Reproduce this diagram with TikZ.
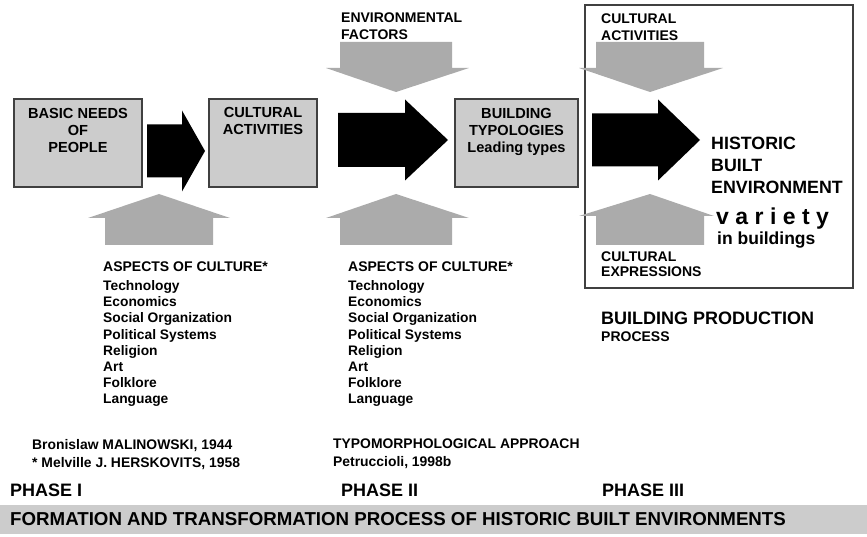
\documentclass[tikz,border=0pt]{standalone}
\usepackage{fontspec}
\setmainfont{Liberation Sans}
\newfontfamily\spacedfont{Liberation Sans}[LetterSpace=28]
\usetikzlibrary{matrix,positioning}

\definecolor{boxgray}{gray}{0.8}
\definecolor{arrowgray}{gray}{0.67}
\definecolor{edgegray}{gray}{0.25}

% block arrow pointing right: shaft start x, head base x, tip x, centre y, shaft half width
\newcommand{\rarrow}[5]{%
  \fill (#1,#4-#5) -- (#2,#4-#5) -- (#2,#4-40.5) -- (#3,#4) -- (#2,#4+40.5)
    -- (#2,#4+#5) -- (#1,#4+#5) -- cycle;}
% block arrow pointing up or down: centre x, shaft end y, head base y, apex y,
% shaft half width, head left x, head right x
\newcommand{\varrow}[7]{%
  \fill[arrowgray] (#1-#5,#2) -- (#1-#5,#3) -- (#6,#3) -- (#1,#4) -- (#7,#3)
    -- (#1+#5,#3) -- (#1+#5,#2) -- cycle;}

\begin{document}
\begin{tikzpicture}[x=1pt,y=-1pt,font=\bfseries,
  box/.style={draw=edgegray, line width=1.5pt, fill=boxgray, minimum height=88pt, inner sep=0pt},
  boxtext/.style={font=\fontsize{14.6}{16.8}\selectfont\bfseries, align=center, inner sep=0pt},
  label/.style={font=\fontsize{14}{16.8}\selectfont\bfseries, align=left, inner sep=0pt, anchor=north west},
  cite/.style={font=\fontsize{13.9}{18}\selectfont\bfseries, align=left, inner sep=0pt, anchor=north west},
  phase/.style={font=\fontsize{18}{20}\selectfont\bfseries, inner sep=0pt, anchor=north west},
  list/.style={matrix of nodes, anchor=north west, inner sep=0pt, row sep=4.2pt,
    nodes={anchor=west, inner sep=0pt, text height=10pt, text depth=2pt,
      font=\fontsize{13.8}{15}\selectfont\bfseries},
    row 1/.style={nodes={font=\fontsize{14}{15}\selectfont\bfseries}}}]
\useasboundingbox (0,0) rectangle (867,537);

% phase III frame
\node[draw=edgegray, line width=1.5pt, minimum width=268pt, minimum height=283pt] (frame) at (719,146.5) {};

% boxes
\node[box, minimum width=128pt] (needs) at (78,143) {};
\node[boxtext, below=10pt of needs.north] (needstxt) {BASIC NEEDS\\OF\\PEOPLE};
\node[box, minimum width=108pt] (cultact) at (263,143) {};
\node[boxtext, below=9pt of cultact.north] (cultacttxt) {CULTURAL\\ACTIVITIES};
\node[box, minimum width=123pt] (typol) at (516.5,143) {};
\node[boxtext, below=10pt of typol.north] (typoltxt) {BUILDING\\TYPOLOGIES\\Leading types};

% black arrows
\rarrow{147}{182}{205}{151}{26.5}
\rarrow{338}{405}{448}{140}{27}
\rarrow{592}{658}{700}{140}{26.5}

% gray arrows
\varrow{159}{245}{218}{194}{54}{88}{230}
\varrow{396}{245}{218}{194}{56}{326}{469}
\varrow{396}{42}{68}{92}{56}{326}{469}
\varrow{650}{42}{68}{92}{54}{579}{723}
\varrow{650}{245}{216}{194}{54}{579}{714}

% labels
\node[label] (envf) at (341,12.5) {ENVIRONMENTAL\\FACTORS};
\node[label] (cultin) at (601,13.5) {CULTURAL\\ACTIVITIES};
\node[label, font=\fontsize{14}{15}\selectfont\bfseries] (cultexp) at (601,252) {CULTURAL\\EXPRESSIONS};
\node[inner sep=0pt, anchor=north west, align=left, font=\fontsize{17.8}{22}\selectfont\bfseries] (hbe) at (711,137) {HISTORIC\\BUILT\\ENVIRONMENT};
\node[inner sep=0pt, anchor=base west, font=\fontsize{23}{25}\spacedfont\bfseries] (variety) at (716,225) {variety};
\node[inner sep=0pt, anchor=base west, font=\fontsize{17.5}{20}\selectfont\bfseries] (inbld) at (717,245) {in buildings};
\node[phase] (bprod) at (601,312) {BUILDING PRODUCTION};
\node[label, anchor=base west] (bproc) at (601,341) {PROCESS};

% aspects of culture
\matrix[list] (aspects1) at (103,261) {
ASPECTS OF CULTURE*\\[3pt]
Technology\\ Economics\\ Social Organization\\ Political Systems\\
Religion\\ Art\\ Folklore\\ Language\\};
\matrix[list] (aspects2) at (348,261) {
ASPECTS OF CULTURE*\\[3pt]
Technology\\ Economics\\ Social Organization\\ Political Systems\\
Religion\\ Art\\ Folklore\\ Language\\};

% sources
\node[cite] (malin) at (32,439) {Bronislaw MALINOWSKI, 1944\\* Melville J. HERSKOVITS, 1958};
\node[cite] (typom) at (333,439) {TYPOMORPHOLOGICAL APPROACH\\Petruccioli, 1998b};

% phases
\node[phase] (ph1) at (10,484) {PHASE I};
\node[phase] (ph2) at (341,484) {PHASE II};
\node[phase] (ph3) at (602,484) {PHASE III};

% bottom band
\fill[boxgray] (0,505) rectangle (867,534);
\node[inner sep=0pt, anchor=west, font=\fontsize{18.7}{20}\selectfont\bfseries] (title) at (10,519.5)
  {FORMATION AND TRANSFORMATION PROCESS OF HISTORIC BUILT ENVIRONMENTS};
\end{tikzpicture}
\end{document}
